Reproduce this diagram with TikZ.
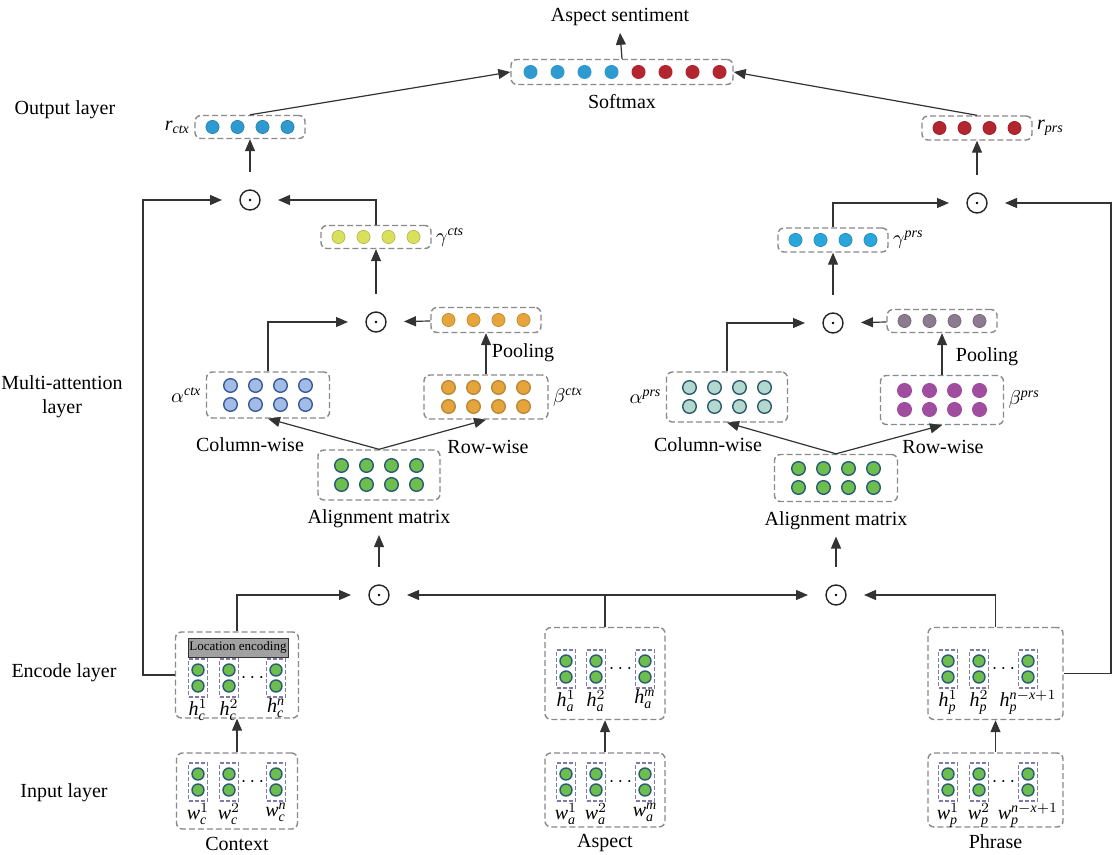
\documentclass[tikz,border=0pt]{standalone}
\usepackage{fontspec}
\setmainfont{Liberation Serif}
\usetikzlibrary{arrows.meta,positioning,calc}

\definecolor{vblue}{HTML}{2F9AD0}
\definecolor{vred}{HTML}{B3262F}
\definecolor{vyellow}{HTML}{D9E05C}
\definecolor{vcyan}{HTML}{2BA6DC}
\definecolor{vorange}{HTML}{E6A53A}
\definecolor{vmauve}{HTML}{8C7A8E}
\definecolor{lblue}{HTML}{A2BCE8}
\definecolor{lblueD}{HTML}{3D5A99}
\definecolor{lorangeD}{HTML}{B98A3A}
\definecolor{lteal}{HTML}{B3D8CE}
\definecolor{ltealD}{HTML}{2E5C6C}
\definecolor{lpurple}{HTML}{A04D9F}
\definecolor{lgreen}{HTML}{6DBE4C}
\definecolor{lgreenD}{HTML}{2A5C78}
\definecolor{boxgray}{HTML}{8A8A8A}
\definecolor{cellgray}{HTML}{7C7CA6}

% word vector label: letter, index, position
\newcommand{\vlab}[3]{\mathit{#1}_{\mathit{#2}}^{#3}}

\tikzset{
  dbox/.style={draw=boxgray, dash pattern=on 3pt off 1.5pt, line width=0.7pt, rounded corners=3pt, inner sep=0pt},
  cell/.style={draw=cellgray, dash pattern=on 2pt off 1pt, line width=0.6pt, minimum width=9.5pt, minimum height=19pt, inner sep=0pt},
  opnode/.style={circle, draw=black!85, line width=0.7pt, minimum size=10pt, inner sep=0pt, outer sep=9pt,
    path picture={\fill[black] (path picture bounding box.center) circle (0.7pt);}},
  arr/.style={draw=black!80, line width=0.6pt, -{Triangle[length=6pt,width=5pt]}},
  lbl/.style={inner sep=1pt},
}

\begin{document}
\begin{tikzpicture}[x=0.5pt,y=-0.5pt]
\useasboundingbox[fill=white] (0,0) rectangle (1113,855);

% layer names
\node (lout) at (65,110) {Output layer};
\node[align=center] (lmul) at (62,397) {Multi-attention\\layer};
\node (lenc) at (64,673) {Encode layer};
\node (linp) at (64,793) {Input layer};

% output layer
\node (sent) at (620,17) {Aspect sentiment};
\node[dbox, minimum width=111pt, minimum height=12.5pt] (smax) at (622,72) {};
\node[below=1pt of smax] (smaxt) {Softmax};
\node[dbox, minimum width=55pt, minimum height=11.5pt] (rctx) at (250,127) {};
\node[dbox, minimum width=55pt, minimum height=12pt] (rprs) at (977,128) {};
\node[lbl, left=1pt of rctx] (rctxt) {$\mathit{r}_{\mathit{ctx}}$};
\node[lbl, right=1pt of rprs] (rprst) {$\mathit{r}_{\mathit{prs}}$};

% multi-attention, context side
\node[opnode] (o1) at (250,200) {};
\node[dbox, minimum width=55pt, minimum height=11.5pt] (gctx) at (376,237) {};
\node[lbl, right=1pt of gctx] (gctxt) {$\gamma^{\mathit{cts}}$};
\node[opnode] (o2) at (376,322) {};
\node[dbox, minimum width=55pt, minimum height=12.5pt] (pctx) at (486,320) {};
\node (pctxt) at (523,353) {Pooling};
\node[dbox, minimum width=61.5pt, minimum height=23pt] (actx) at (268,395) {};
\node[dbox, minimum width=62pt, minimum height=22pt] (bctx) at (486,397) {};
\node[lbl, left=1pt of actx] (actxt) {$\alpha^{\mathit{ctx}}$};
\node[lbl, right=1pt of bctx] (bctxt) {$\beta^{\mathit{ctx}}$};
\node (colc) at (250,445) {Column-wise};
\node (rowc) at (488,447) {Row-wise};
\node[dbox, minimum width=61pt, minimum height=25pt] (alc) at (379,475) {};
\node[below=1pt of alc] (alct) {Alignment matrix};
\node[opnode] (o3) at (379,595) {};

% multi-attention, phrase side
\node[opnode] (o6) at (977,203) {};
\node[dbox, minimum width=55pt, minimum height=12pt] (gprs) at (833,240) {};
\node[lbl, right=1pt of gprs] (gprst) {$\gamma^{\mathit{prs}}$};
\node[opnode] (o5) at (833,323) {};
\node[dbox, minimum width=55pt, minimum height=11.5pt] (pprs) at (942,321) {};
\node (pprst) at (987,357) {Pooling};
\node[dbox, minimum width=60.5pt, minimum height=25pt] (aprs) at (727,397) {};
\node[dbox, minimum width=61.5pt, minimum height=24.5pt] (bprs) at (942,400) {};
\node[lbl, left=1pt of aprs] (aprst) {$\alpha^{\mathit{prs}}$};
\node[lbl, right=1pt of bprs] (bprst) {$\beta^{\mathit{prs}}$};
\node (colp) at (708,445) {Column-wise};
\node (rowp) at (943,447) {Row-wise};
\node[dbox, minimum width=61.5pt, minimum height=23.5pt] (alp) at (836,478) {};
\node[below=1pt of alp] (alpt) {Alignment matrix};
\node[opnode] (o4) at (836,595) {};

% encode and input layers
\node[dbox, minimum width=61.5pt, minimum height=43pt] (encC) at (237,675) {};
\node[dbox, minimum width=60pt, minimum height=46pt] (encA) at (605,673.5) {};
\node[dbox, minimum width=67.5pt, minimum height=46pt] (encP) at (995.5,673.5) {};
\node[dbox, minimum width=60.5pt, minimum height=38pt] (inC) at (237,791) {};
\node[dbox, minimum width=60pt, minimum height=37pt] (inA) at (605,790) {};
\node[dbox, minimum width=67.5pt, minimum height=37pt] (inP) at (995.5,790) {};
\node[below=0pt of inC] (ctxt) {Context};
\node[below=0pt of inA] (aspt) {Aspect};
\node[below=0pt of inP] (phrt) {Phrase};
\node[draw=black!80, fill=black!37, line width=0.5pt, minimum width=50pt, minimum height=9.5pt, inner sep=0pt,
  font=\fontsize{6.5}{7}\selectfont] (loc) at (238,647.5) {Location encoding};

\foreach \n/\x/\y/\t in {hc1/198/678/{\vlab{h}{c}{1}}, hc2/229/678/{\vlab{h}{c}{2}}, hc3/276/678/{\vlab{h}{c}{\mathit{n}}},
    ha1/566/669/{\vlab{h}{a}{1}}, ha2/596/669/{\vlab{h}{a}{2}}, ha3/645/669/{\vlab{h}{a}{\mathit{m}}},
    hp1/948/669/{\vlab{h}{p}{1}}, hp2/979/669/{\vlab{h}{p}{2}}, hp3/1028/669/{\vlab{h}{p}{\mathit{n}-\mathit{x}+1}},
    wc1/198/782/{\vlab{w}{c}{1}}, wc2/229/782/{\vlab{w}{c}{2}}, wc3/276/782/{\vlab{w}{c}{\mathit{n}}},
    wa1/566/782/{\vlab{w}{a}{1}}, wa2/596/782/{\vlab{w}{a}{2}}, wa3/645/782/{\vlab{w}{a}{\mathit{m}}},
    wp1/948/782/{\vlab{w}{p}{1}}, wp2/979/782/{\vlab{w}{p}{2}}, wp3/1028/782/{\vlab{w}{p}{\mathit{n}-\mathit{x}+1}}} {
  \node[cell] (\n) at (\x,\y) {};
  \foreach \dy in {-8,8}
    \filldraw[fill=lgreen, draw=lgreenD, line width=0.7pt] ($(\n.center)+(0,\dy)$) circle (3pt);
  \node[below=0pt of \n, inner sep=0.5pt] (\n-t) {$\t$};
}
\foreach \g in {hc,ha,hp,wc,wa,wp}
  \node[inner sep=0pt] (\g-d) at ($(\g2)!0.5!(\g3)$) {$\cdots$};

% dots
\foreach \i in {0,...,3} {
  \fill[vblue] ($(smax.center)+(-91.5+27*\i,0)$) circle (3.5pt);
  \fill[vred] ($(smax.center)+(16.5+27*\i,0)$) circle (3.5pt);
}
\foreach \b/\c in {rctx/vblue, rprs/vred, gctx/vyellow, gprs/vcyan, pctx/vorange, pprs/vmauve}
  \foreach \dx in {-37.5,-12.5,12.5,37.5}
    \filldraw[fill=\c, draw=\c!80!black, line width=0.3pt] ($(\b.center)+(\dx,0)$) circle (3.3pt);
\foreach \b/\f/\d in {actx/lblue/lblueD, bctx/vorange/lorangeD, aprs/lteal/ltealD,
    bprs/lpurple/lpurple, alc/lgreen/lgreenD, alp/lgreen/lgreenD}
  \foreach \dx in {-37.5,-12.5,12.5,37.5}
    \foreach \dy in {-9.5,9.5}
      \filldraw[fill=\f, draw=\d, line width=0.7pt] ($(\b.center)+(\dx,\dy)$) circle (3.4pt);

% connectors
\coordinate (lft) at (143,200);
\coordinate (rgt) at (1111,203);
\draw[arr] (smax.north) -- (sent.south);
\draw[arr] (rctx.north) -- (smax.west);
\draw[arr] (rprs.north) -- (smax.east);
\draw[arr] (o1) -- (rctx);
\draw[arr] (o6) -- (rprs);
\draw[arr] (encC.west) -| (lft) -- (o1);
\draw[arr] (encP.east) -| (rgt) -- (o6);
\draw[arr] (gctx.north) |- (o1);
\draw[arr] (gprs.north) |- (o6);
\draw[arr] (o2) -- (gctx);
\draw[arr] (o5) -- (gprs);
\draw[arr] (actx.north) |- (o2);
\draw[arr] (aprs.north) |- (o5);
\draw[arr] (pctx) -- (o2);
\draw[arr] (pprs) -- (o5);
\draw[arr] (bctx) -- (pctx);
\draw[arr] (bprs) -- (pprs);
\draw[arr] (alc.north) -- (actx.south);
\draw[arr] (alc.north) -- (bctx.south);
\draw[arr] (alp.north) -- (aprs.south);
\draw[arr] (alp.north) -- (bprs.south);
\draw[arr] (o3) -- (alct);
\draw[arr] (o4) -- (alpt);
\draw[arr] (encC.north) |- (o3);
\draw[arr] (encA.north) |- (o3);
\draw[arr] (encA.north) |- (o4);
\draw[arr] (encP.north) |- (o4);
\draw[arr] (inC) -- (encC);
\draw[arr] (inA) -- (encA);
\draw[arr] (inP) -- (encP);
\end{tikzpicture}
\end{document}
